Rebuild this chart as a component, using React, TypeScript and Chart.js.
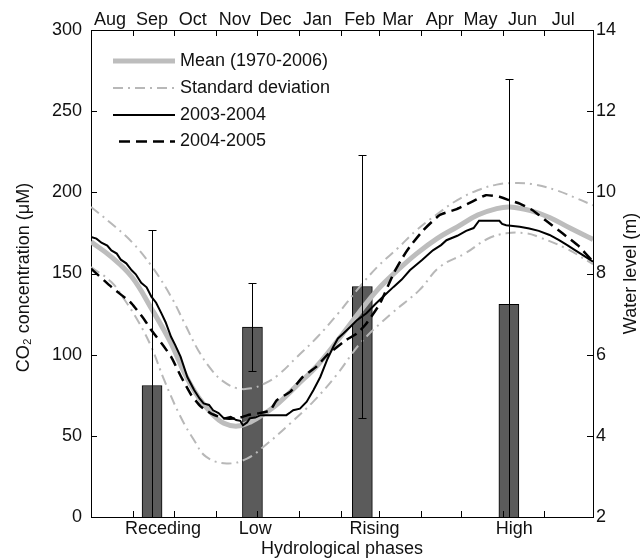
import React, { useEffect, useRef } from 'react';
import { Chart, registerables } from 'chart.js';

Chart.register(...registerables);

// ---- Data ----
const monthLabels = ['Aug', 'Sep', 'Oct', 'Nov', 'Dec', 'Jan', 'Feb', 'Mar', 'Apr', 'May', 'Jun', 'Jul'];
const monthStartDays = [0, 31, 61, 92, 122, 153, 184, 212, 243, 273, 304, 334];
const axisEndDay = 370;

const phaseLabels = ['Receding', 'Low', 'Rising', 'High'];
const phaseDays = [45, 119, 200, 308];
const phaseLabelDays = [53, 121, 209, 312];
const co2Mean = [81, 117, 142, 131];
const co2Err = [96, 27, 81, 139];

const meanDays = [0, 15, 30, 44.5, 59, 69, 79, 89, 98, 108, 118, 128, 138, 152, 167, 182, 196, 211, 226, 240, 255, 270, 285, 299, 309, 324, 338, 353, 370];
const meanLevel = [8.78, 8.41, 7.92, 7.14, 6.28, 5.54, 4.96, 4.55, 4.31, 4.24, 4.35, 4.55, 4.80, 5.25, 5.74, 6.36, 6.97, 7.59, 8.08, 8.49, 8.86, 9.15, 9.44, 9.60, 9.64, 9.55, 9.38, 9.12, 8.84];

const upperStdDays = [0, 15, 30, 44.5, 59, 69, 79, 89, 98, 108, 118, 128, 138, 152, 167, 182, 196, 211, 226, 240, 255, 270, 285, 299, 312, 326, 343, 358, 370];
const upperStdLevel = [9.64, 9.23, 8.78, 8.19, 7.43, 6.77, 6.11, 5.62, 5.33, 5.17, 5.17, 5.29, 5.50, 5.95, 6.44, 7.01, 7.59, 8.16, 8.62, 9.07, 9.46, 9.81, 10.05, 10.19, 10.23, 10.20, 10.05, 9.85, 9.68];

const lowerStdDays = [0, 15, 25, 35, 44.5, 54, 66, 76, 85, 100, 115, 130, 147, 164, 181, 199, 221, 242, 257, 276, 292, 306, 321, 330, 350, 370];
const lowerStdLevel = [8.16, 7.79, 7.34, 6.81, 6.19, 5.37, 4.47, 3.89, 3.48, 3.32, 3.44, 3.81, 4.31, 4.85, 5.50, 6.30, 7.00, 7.59, 8.16, 8.50, 8.85, 8.99, 8.99, 8.90, 8.62, 8.23];

const y0304Days = [0, 4, 7.7, 12, 15, 19, 22, 26, 30, 33, 37, 41, 44.5, 48, 52, 55, 59, 62, 66, 71, 76, 80, 83, 87, 90, 94, 98, 103, 107, 110, 112, 115, 117, 121, 125, 135, 144, 147, 149, 154, 159, 164, 169, 174, 178.5, 182, 186, 191, 196, 203, 210, 216, 223, 229, 235, 244, 252, 258, 262, 270, 276.5, 282, 286, 294, 301, 303, 306, 311, 316, 323, 330, 338, 345, 351, 357, 364, 370];
const y0304Level = [8.90, 8.86, 8.76, 8.69, 8.57, 8.49, 8.34, 8.25, 8.08, 7.98, 7.77, 7.66, 7.43, 7.28, 7.01, 6.80, 6.44, 6.24, 5.95, 5.45, 5.13, 4.92, 4.80, 4.76, 4.63, 4.56, 4.43, 4.47, 4.39, 4.37, 4.26, 4.33, 4.43, 4.45, 4.51, 4.51, 4.51, 4.58, 4.63, 4.67, 4.84, 5.13, 5.45, 5.87, 6.19, 6.40, 6.52, 6.68, 6.85, 7.02, 7.26, 7.45, 7.67, 7.85, 8.08, 8.33, 8.57, 8.70, 8.82, 8.93, 9.05, 9.12, 9.30, 9.30, 9.30, 9.22, 9.19, 9.17, 9.15, 9.11, 9.05, 8.95, 8.82, 8.70, 8.57, 8.42, 8.29];

const y0405Days = [0, 15, 30, 39.6, 44.5, 52, 59, 66.5, 74, 81, 88.6, 98, 108, 115.5, 123, 132, 137, 147, 156, 166, 174, 188, 196, 203, 213, 223, 230, 235, 245, 257, 269, 281, 291, 301, 308, 316, 325.5, 335, 347.5, 360, 370];
const y0405Level = [8.12, 7.67, 7.26, 6.85, 6.60, 6.28, 5.95, 5.45, 5.00, 4.72, 4.55, 4.43, 4.43, 4.51, 4.55, 4.63, 4.88, 5.09, 5.45, 5.70, 5.99, 6.36, 6.52, 6.77, 7.26, 8.00, 8.41, 8.66, 9.07, 9.44, 9.58, 9.77, 9.93, 9.89, 9.81, 9.72, 9.56, 9.31, 8.99, 8.66, 8.29];

const legendLabels = ['Mean (1970-2006)', 'Standard deviation', '2003-2004', '2004-2005'];

// ---- Styles ----
const FONT = '"Liberation Sans", Arial, Helvetica, sans-serif';
const FS = 18;
const MEAN_COLOR = '#bdbdbd';
const STD_COLOR = '#b8b8b8';
const STD_DASH = [10, 5, 2, 5];
const DASH = [11, 6];

const pts = (xs: number[], ys: number[]) => xs.map((x, i) => ({ x, y: ys[i] }));

const decorPlugin = {
  id: 'decor',
  afterDatasetsDraw(chart: any) {
    const { ctx, chartArea: ca, scales } = chart;
    const xs = scales.x;
    const ys = scales.y;
    ctx.save();
    ctx.beginPath();
    ctx.rect(ca.left, ca.top, ca.right - ca.left, ca.bottom - ca.top);
    ctx.clip();
    ctx.strokeStyle = '#000';
    ctx.lineWidth = 1;
    phaseDays.forEach((d, i) => {
      const px = Math.round(xs.getPixelForValue(d)) + 0.5;
      const top = Math.round(ys.getPixelForValue(co2Mean[i] + co2Err[i])) + 0.5;
      const bot = Math.round(ys.getPixelForValue(co2Mean[i] - co2Err[i])) + 0.5;
      ctx.beginPath();
      ctx.moveTo(px, top);
      ctx.lineTo(px, bot);
      ctx.moveTo(px - 4, top);
      ctx.lineTo(px + 4, top);
      ctx.moveTo(px - 4, bot);
      ctx.lineTo(px + 4, bot);
      ctx.stroke();
    });
    ctx.restore();
  },
  afterDraw(chart: any) {
    const { ctx, chartArea: ca, scales } = chart;
    const TL = 6;
    ctx.save();
    ctx.strokeStyle = '#000';
    ctx.lineWidth = 1;
    ctx.beginPath();
    monthStartDays.slice(1).forEach((d) => {
      const px = Math.round(scales.x.getPixelForValue(d)) + 0.5;
      ctx.moveTo(px, ca.bottom);
      ctx.lineTo(px, ca.bottom - TL);
      ctx.moveTo(px, ca.top);
      ctx.lineTo(px, ca.top + TL);
    });
    scales.y.ticks.forEach((t: any) => {
      const py = Math.round(scales.y.getPixelForValue(t.value)) + 0.5;
      ctx.moveTo(ca.left, py);
      ctx.lineTo(ca.left + TL, py);
    });
    scales.y2.ticks.forEach((t: any) => {
      const py = Math.round(scales.y2.getPixelForValue(t.value)) + 0.5;
      ctx.moveTo(ca.right, py);
      ctx.lineTo(ca.right - TL, py);
    });
    ctx.stroke();

    // legend
    const rowY = [61, 88, 115, 141.5];
    const x0 = ca.left + 22;
    const x1 = ca.left + 84;
    const styles = [
      { c: MEAN_COLOR, w: 5, d: [] as number[] },
      { c: STD_COLOR, w: 2, d: STD_DASH },
      { c: '#000', w: 2, d: [] as number[] },
      { c: '#000', w: 2.5, d: DASH },
    ];
    styles.forEach((s, i) => {
      ctx.beginPath();
      ctx.strokeStyle = s.c;
      ctx.lineWidth = s.w;
      ctx.setLineDash(s.d);
      ctx.moveTo(i === 3 ? x0 + 6 : x0, rowY[i]);
      ctx.lineTo(x1, rowY[i]);
      ctx.stroke();
    });
    ctx.setLineDash([]);
    ctx.fillStyle = '#111';
    ctx.font = `${FS}px ${FONT}`;
    ctx.textBaseline = 'middle';
    ctx.textAlign = 'left';
    legendLabels.forEach((l, i) => ctx.fillText(l, x1 + 5, rowY[i]));

    // axis titles
    const cy = (ca.top + ca.bottom) / 2;
    ctx.textAlign = 'center';
    ctx.save();
    ctx.translate(24, cy + 4);
    ctx.rotate(-Math.PI / 2);
    ctx.fillText('CO\u2082 concentration (\u03BCM)', 0, 0);
    ctx.restore();
    ctx.save();
    ctx.translate(631, cy);
    ctx.rotate(-Math.PI / 2);
    ctx.fillText('Water level (m)', 0, 0);
    ctx.restore();
    ctx.fillText('Hydrological phases', (ca.left + ca.right) / 2, 549);
    ctx.restore();
  },
};

export default function App() {
  const ref = useRef<HTMLCanvasElement | null>(null);

  useEffect(() => {
    if (!ref.current) return;
    const tickFont = { family: FONT, size: FS };
    const chart = new Chart(ref.current, {
      type: 'line',
      data: {
        datasets: [
          {
            type: 'bar',
            label: 'CO2',
            data: pts(phaseDays, co2Mean),
            xAxisID: 'x',
            yAxisID: 'y',
            backgroundColor: '#5b5b5b',
            borderColor: '#000',
            borderWidth: 1,
            barThickness: 20,
            order: 10,
          } as any,
          {
            label: legendLabels[0],
            data: pts(meanDays, meanLevel),
            xAxisID: 'x',
            yAxisID: 'y2',
            borderColor: MEAN_COLOR,
            borderWidth: 5,
            pointRadius: 0,
            tension: 0.4,
            order: 5,
          },
          {
            label: 'upper std',
            data: pts(upperStdDays, upperStdLevel),
            xAxisID: 'x',
            yAxisID: 'y2',
            borderColor: STD_COLOR,
            borderWidth: 2,
            borderDash: STD_DASH,
            pointRadius: 0,
            tension: 0.4,
            order: 4,
          },
          {
            label: 'lower std',
            data: pts(lowerStdDays, lowerStdLevel),
            xAxisID: 'x',
            yAxisID: 'y2',
            borderColor: STD_COLOR,
            borderWidth: 2,
            borderDash: STD_DASH,
            pointRadius: 0,
            tension: 0.4,
            order: 4,
          },
          {
            label: legendLabels[2],
            data: pts(y0304Days, y0304Level),
            xAxisID: 'x',
            yAxisID: 'y2',
            borderColor: '#000',
            borderWidth: 2,
            pointRadius: 0,
            tension: 0,
            order: 2,
          },
          {
            label: legendLabels[3],
            data: pts(y0405Days, y0405Level),
            xAxisID: 'x',
            yAxisID: 'y2',
            borderColor: '#000',
            borderWidth: 2.5,
            borderDash: DASH,
            pointRadius: 0,
            tension: 0.15,
            order: 1,
          },
        ],
      },
      plugins: [decorPlugin],
      options: {
        animation: false,
        responsive: true,
        maintainAspectRatio: false,
        devicePixelRatio: 1,
        layout: { padding: 0 },
        plugins: { legend: { display: false }, tooltip: { enabled: false } },
        scales: {
          x: {
            type: 'linear',
            position: 'bottom',
            min: 0,
            max: axisEndDay,
            offset: false,
            grid: { display: false, drawTicks: false },
            border: { display: true, color: '#000', width: 1 },
            afterBuildTicks: (s: any) => {
              s.ticks = phaseLabelDays.map((v) => ({ value: v }));
            },
            afterFit: (s: any) => {
              s.height = 41;
            },
            ticks: {
              autoSkip: false,
              maxRotation: 0,
              padding: 1,
              color: '#111',
              font: tickFont,
              callback: (_v: any, i: number) => phaseLabels[i],
            },
          },
          x2: {
            type: 'linear',
            position: 'top',
            min: 0,
            max: axisEndDay,
            offset: false,
            grid: { display: false, drawTicks: false },
            border: { display: true, color: '#000', width: 1 },
            afterBuildTicks: (s: any) => {
              s.ticks = monthStartDays.map((d) => ({ value: d + 14 }));
            },
            afterFit: (s: any) => {
              s.height = 30;
            },
            ticks: {
              autoSkip: false,
              maxRotation: 0,
              padding: -1,
              color: '#111',
              font: tickFont,
              callback: (_v: any, i: number) => monthLabels[i],
            },
          },
          y: {
            type: 'linear',
            position: 'left',
            min: 0,
            max: 300,
            grid: { display: false, drawTicks: false },
            border: { display: true, color: '#000', width: 1 },
            afterFit: (s: any) => {
              s.width = 91;
            },
            ticks: { stepSize: 50, padding: 9, color: '#111', font: tickFont },
          },
          y2: {
            type: 'linear',
            position: 'right',
            min: 2,
            max: 14,
            grid: { display: false, drawTicks: false },
            border: { display: true, color: '#000', width: 1 },
            afterFit: (s: any) => {
              s.width = 47;
            },
            ticks: { stepSize: 2, padding: 3, color: '#111', font: tickFont },
          },
        },
      } as any,
    });
    return () => chart.destroy();
  }, []);

  return (
    <div style={{ position: 'absolute', left: 0, top: 0, width: 640, height: 558, background: '#fff' }}>
      <canvas ref={ref} style={{ display: 'block' }} />
    </div>
  );
}
